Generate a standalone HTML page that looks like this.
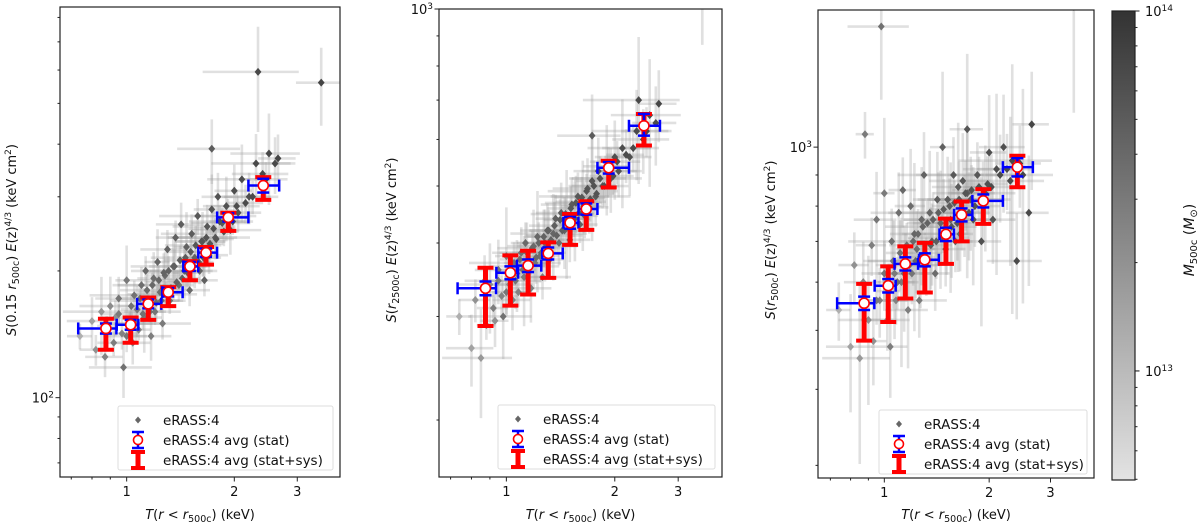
<!DOCTYPE html>
<html><head><meta charset="utf-8">
<style>
html,body{margin:0;padding:0;background:#fff;}
svg{display:block;font-family:"DejaVu Sans","Liberation Sans",sans-serif;}
</style></head>
<body>
<svg id="fig" width="1200" height="526" viewBox="0 0 1200 526" xmlns="http://www.w3.org/2000/svg">
<defs>
<linearGradient id="cbg" x1="0" y1="0" x2="0" y2="1">
<stop offset="0" stop-color="#333"/><stop offset="1" stop-color="#e3e3e3"/>
</linearGradient>
</defs>
</svg>
<script>
// ---------- data ----------
const clusterT = [0.74,0.80,0.82,0.85,0.87,0.88,0.90,0.92,0.93,0.95,0.97,0.98,1.00,1.02,1.04,1.05,1.07,1.08,1.10,1.12,1.13,1.15,1.17,1.19,1.20,1.22,1.24,1.26,1.28,1.30,1.32,1.35,1.37,1.40,1.42,1.45,1.47,1.50,1.52,1.55,1.58,1.60,1.63,1.65,1.68,1.70,1.73,1.77,1.80,1.85,1.90,1.95,2.00,2.05,2.10,2.20,2.30,2.40,2.50,2.60,2.65,3.50,2.33,1.73,
 0.95,1.0,1.03,1.06,1.09,1.11,1.14,1.16,1.18,1.21,1.23,1.25,1.27,1.29,1.31,1.33,1.36,1.38,1.41,1.43,1.46,1.48,1.51,1.54,1.56,1.59,1.62,1.64,1.67,1.71,1.75,1.78,1.82,1.87,1.92,1.98,2.03,2.15,2.25,2.45];
const clusterS1 = [140,152,130,160,125,148,165,135,155,172,142,118,190,150,135,175,162,145,185,155,200,170,140,192,160,210,178,150,195,225,170,205,240,185,258,200,228,180,245,215,270,200,235,190,255,218,280,240,300,260,285,250,310,275,330,300,360,340,380,360,370,560,594,390,
 158,140,165,150,172,158,180,160,185,168,190,170,198,176,200,182,205,188,212,192,215,198,222,205,230,210,235,215,240,232,252,238,262,248,270,262,285,290,300,330];
const clusterS2 = [300,265,320,255,345,290,340,310,295,360,325,300,380,340,320,370,355,330,385,350,400,365,335,395,370,410,380,350,400,420,375,415,440,400,450,420,440,405,465,440,480,430,470,445,495,460,510,480,530,500,540,515,560,530,580,560,620,600,660,640,690,1100,700,609,
 345,330,360,345,375,360,385,368,392,378,400,385,410,395,420,405,428,412,438,420,448,430,458,440,468,450,478,462,490,475,500,485,515,500,530,520,550,565,580,620];
const clusterS3 = [540,470,640,450,600,1050,520,690,480,760,560,1578,840,520,470,700,620,560,780,600,850,650,540,800,620,720,680,560,760,900,640,780,700,620,820,750,1000,680,820,760,900,700,860,720,880,780,1070,820,760,900,700,840,980,760,920,1000,880,650,900,780,1090,1700,950,840,
 560,620,580,650,600,670,620,690,640,700,650,720,660,740,670,750,690,760,700,780,710,790,720,800,740,810,750,820,760,840,780,850,800,860,820,870,860,900,920,940];
const clusterMass = [1.2,1.5,2.0,1.8,2.5,3.0,2.2,2.8,2.0,3.2,2.6,3.5,3.0,2.4,2.8,3.4,3.0,2.6,3.6,3.0,4.0,3.4,2.8,3.8,3.2,4.2,3.6,3.0,4.0,4.4,3.6,4.2,4.6,3.8,4.8,4.2,4.6,4.0,5.0,4.6,5.2,4.4,5.0,4.6,5.4,5.0,5.6,5.2,5.8,5.4,6.0,5.6,6.2,5.8,6.4,6.2,6.8,6.6,7.0,6.8,7.2,7.5,7.0,5.0,
 3.0,3.2,3.4,3.3,3.6,3.5,3.8,3.7,4.0,3.9,4.2,4.0,4.4,4.2,4.5,4.4,4.7,4.5,4.9,4.7,5.0,4.9,5.2,5.0,5.4,5.2,5.5,5.4,5.7,5.6,5.9,5.8,6.0,6.0,6.2,6.2,6.4,6.6,6.8,7.0];
const xErrFrac = [0.08,0.15,0.10,0.22,0.12,0.06,0.18,0.10,0.09,0.14,0.11,0.20,0.07,0.16,0.12,0.25,0.10,0.08,0.17,0.12,0.09,0.22,0.14,0.10,0.18,0.08,0.13,0.20,0.11,0.16,0.09,0.24,0.12,0.10,0.15,0.20,0.08,0.14,0.18,0.10,0.22,0.12,0.16,0.09,0.20,0.13,0.11,0.25,0.10,0.18,0.14,0.22,0.12,0.16,0.20,0.15,0.25,0.18,0.22,0.14,0.12,0.15,0.30,0.20,
 0.10,0.14,0.08,0.18,0.12,0.09,0.16,0.11,0.20,0.08,0.13,0.17,0.10,0.22,0.12,0.09,0.15,0.18,0.10,0.12,0.20,0.09,0.14,0.11,0.18,0.10,0.16,0.12,0.22,0.09,0.15,0.12,0.18,0.10,0.20,0.14,0.16,0.12,0.18,0.15];
const yErrFrac = [0.10,0.20,0.12,0.30,0.15,0.08,0.25,0.10,0.14,0.18,0.12,0.22,0.30,0.10,0.16,0.12,0.20,0.08,0.15,0.25,0.12,0.10,0.18,0.22,0.10,0.28,0.14,0.12,0.20,0.16,0.10,0.24,0.14,0.12,0.18,0.20,0.30,0.12,0.16,0.22,0.14,0.10,0.25,0.12,0.18,0.14,0.30,0.16,0.20,0.12,0.25,0.18,0.22,0.14,0.30,0.20,0.25,0.18,0.35,0.22,0.20,0.30,0.40,0.25,
 0.08,0.12,0.10,0.15,0.09,0.12,0.18,0.08,0.10,0.14,0.12,0.09,0.16,0.10,0.12,0.08,0.14,0.10,0.12,0.15,0.09,0.11,0.13,0.10,0.16,0.08,0.12,0.14,0.10,0.12,0.15,0.09,0.13,0.11,0.14,0.10,0.12,0.15,0.13,0.14];

const binT = [0.875,1.026,1.149,1.307,1.503,1.667,1.924,2.41];
const binTlo = [0.732,0.938,1.070,1.258,1.440,1.586,1.790,2.190];
const binThi = [0.936,1.078,1.250,1.434,1.585,1.790,2.190,2.670];

const avgS1 = [146,149,167,178,205,221,268,319];
const sysLo1 = [130,135,153,165,190,207,249,295];
const sysHi1 = [154,155,173,183,211,228,275,334];
const statLo1 = [142,145,163,174,200,216,262,307];
const statHi1 = [150,153,171,182,210,226,274,331];

const avgS2 = [335,356,366,384,433,457,537,633];
const sysLo2 = [289,313,327,349,397,421,497,586];
const sysHi2 = [363,381,388,401,448,471,552,663];
const statLo2 = [326,347,357,375,423,447,525,609];
const statHi2 = [344,365,375,393,443,467,549,663];

const avgS3 = [554,592,643,653,719,774,816,927];
const sysLo3 = [481,516,564,577,643,700,748,859];
const sysHi3 = [596,637,687,696,763,814,853,968];
const statLo3 = [540,577,627,637,701,755,796,895];
const statHi3 = [568,607,659,669,737,793,836,959];

const xTickVals = [1,2,3];
const xTickLabels = ["1","2","3"];
const cbTickVals = [1e13,1e14];

// ---------- helpers ----------
const NS="http://www.w3.org/2000/svg";
const svg=document.getElementById('fig');
function mk(tag,attrs,parent){const e=document.createElementNS(NS,tag);for(const k in attrs)e.setAttribute(k,attrs[k]);(parent||svg).appendChild(e);return e;}
const L=Math.log10;

const panels=[
 {id:'p1',x0:60,x1:340,y0:7,y1:477,tmin:0.651,tmax:3.95,smin:64.8,smax:847,S:clusterS1,avg:avgS1,sl:sysLo1,sh:sysHi1,tl:statLo1,th:statHi1,yscale:0.7,
  ylab:['S(0.15\u00a0','r','500c',')\u00a0','E','(z)','4/3',' (keV cm','2',')'],ylx:16,yly:240,legX:118,legY:406,legW:215,
  major:[{v:100,l:'10',e:'2'}]},
 {id:'p2',x0:439,x1:722,y0:9,y1:477,tmin:0.65,tmax:3.97,smin:160,smax:1000,S:clusterS2,avg:avgS2,sl:sysLo2,sh:sysHi2,tl:statLo2,th:statHi2,yscale:0.7,
  ylab:['S(','r','2500c',')\u00a0','E','(z)','4/3',' (keV cm','2',')'],ylx:396,yly:240,legX:498,legY:405,legW:217,
  major:[{v:1000,l:'10',e:'3'}]},
 {id:'p3',x0:818,x1:1094,y0:10,y1:478,tmin:0.645,tmax:4.0,smin:286,smax:1680,S:clusterS3,avg:avgS3,sl:sysLo3,sh:sysHi3,tl:statLo3,th:statHi3,yscale:1.1,
  ylab:['S(','r','500c',')\u00a0','E','(z)','4/3',' (keV cm','2',')'],ylx:775,yly:240,legX:879,legY:410,legW:208,
  major:[{v:1000,l:'10',e:'3'}]}
];

function massColor(m){
  let t=(L(m*1e13)-12.697)/(14-12.697); t=Math.max(0,Math.min(1,t));
  const g=Math.round(227-t*(227-51)); return `rgb(${g},${g},${g})`;
}

panels.forEach((p,pi)=>{
  const X=t=>p.x0+(L(t)-L(p.tmin))/(L(p.tmax)-L(p.tmin))*(p.x1-p.x0);
  const Y=s=>p.y1-(L(s)-L(p.smin))/(L(p.smax)-L(p.smin))*(p.y1-p.y0);
  const g=mk('g',{});
  
  
  const cp=mk('clipPath',{id:'clip'+pi},g);
  mk('rect',{x:p.x0,y:p.y0,width:p.x1-p.x0,height:p.y1-p.y0},cp);
  const plot=mk('g',{'clip-path':`url(#clip${pi})`},g);
  
  
  const eg=mk('g',{stroke:'rgba(160,160,160,0.32)','stroke-width':2.6,fill:'none'},plot);
  
  
  clusterT.forEach((t,i)=>{
    const s=p.S[i], xf=xErrFrac[i], yf=yErrFrac[i]*p.yscale;
    mk('line',{x1:X(t*(1-xf)),x2:X(t*(1+xf)),y1:Y(s),y2:Y(s)},eg);
    mk('line',{x1:X(t),x2:X(t),y1:Y(s*(1-yf)),y2:Y(s*(1+yf))},eg);
  });
  const pg=mk('g',{},plot);
  
  
  clusterT.forEach((t,i)=>{
    const cx=X(t),cy=Y(p.S[i]);
    const d=mk('path',{d:`M${cx},${cy-4}L${cx+3.4},${cy}L${cx},${cy+4}L${cx-3.4},${cy}Z`,fill:massColor(clusterMass[i])},pg);
    
    
  });
  const ag=mk('g',{},plot);
  
  
  binT.forEach((t,i)=>{
    const cx=X(t),cy=Y(p.avg[i]);
    const ylo=Y(p.sl[i]),yhi=Y(p.sh[i]);
    mk('line',{x1:cx,x2:cx,y1:yhi,y2:ylo,stroke:'#ff0000','stroke-width':5},ag);
    mk('line',{x1:cx-8,x2:cx+8,y1:yhi,y2:yhi,stroke:'#ff0000','stroke-width':4},ag);
    mk('line',{x1:cx-8,x2:cx+8,y1:ylo,y2:ylo,stroke:'#ff0000','stroke-width':4},ag);
    const xl=X(binTlo[i]),xh=X(binThi[i]),sl=Y(p.tl[i]),sh=Y(p.th[i]);
    mk('line',{x1:xl,x2:xh,y1:cy,y2:cy,stroke:'#0000ff','stroke-width':2.5},ag);
    mk('line',{x1:xl,x2:xl,y1:cy-6,y2:cy+6,stroke:'#0000ff','stroke-width':2.5},ag);
    mk('line',{x1:xh,x2:xh,y1:cy-6,y2:cy+6,stroke:'#0000ff','stroke-width':2.5},ag);
    mk('line',{x1:cx,x2:cx,y1:sh,y2:sl,stroke:'#0000ff','stroke-width':2.5},ag);
    mk('line',{x1:cx-6,x2:cx+6,y1:sh,y2:sh,stroke:'#0000ff','stroke-width':2.5},ag);
    mk('line',{x1:cx-6,x2:cx+6,y1:sl,y2:sl,stroke:'#0000ff','stroke-width':2.5},ag);
    const c=mk('circle',{cx:cx,cy:cy,r:5,fill:'#fff',stroke:'#ff0000','stroke-width':1.6},ag);
    
    
  });
  const fr=mk('rect',{x:p.x0,y:p.y0,width:p.x1-p.x0,height:p.y1-p.y0,fill:'none',stroke:'#222','stroke-width':1.2},g);
  
  
  const xa=mk('g',{},g);
  
  
  [0.7,0.8,0.9].forEach(v=>mk('line',{x1:X(v),x2:X(v),y1:p.y1,y2:p.y1+2.5,stroke:'#222'},xa));
  xTickVals.forEach((v,i)=>{
    mk('line',{x1:X(v),x2:X(v),y1:p.y1,y2:p.y1+4.5,stroke:'#222'},xa);
    const t=mk('text',{x:X(v),y:p.y1+19,'text-anchor':'middle','font-size':13,fill:'#111'},xa);
    t.textContent=xTickLabels[i];
  });
  const xt=mk('text',{x:(p.x0+p.x1)/2,y:519,'text-anchor':'middle','font-size':13,fill:'#111'},xa);
  
  
  xt.innerHTML='<tspan font-style="italic">T</tspan>(<tspan font-style="italic">r</tspan> &lt; <tspan font-style="italic">r</tspan><tspan font-size="9.5" dy="3">500c</tspan><tspan dy="-3">) (keV)</tspan>';
  const ya=mk('g',{},g);
  
  
  for(let dec=10;dec<=1000;dec*=10){
    for(let k=1;k<10;k++){
      const v=k*dec; if(v<p.smin||v>p.smax*1.001)continue;
      const major=(k===1);
      mk('line',{x1:p.x0,x2:p.x0-(major?4.5:2.5),y1:Y(v),y2:Y(v),stroke:'#222'},ya);
    }
  }
  p.major.forEach(m=>{
    const t=mk('text',{x:p.x0-6,y:Y(m.v)+5,'text-anchor':'end','font-size':13,fill:'#111'},ya);
    t.innerHTML=m.l+'<tspan font-size="9" dy="-5">'+m.e+'</tspan>';
  });
  const yt=mk('text',{x:0,y:0,'text-anchor':'middle','font-size':13,fill:'#111',transform:`translate(${p.ylx},${p.yly}) rotate(-90)`},ya);
  
  
  const a=p.ylab;
  yt.innerHTML=`<tspan font-style="italic">S</tspan>${a[0].slice(1)}<tspan font-style="italic">${a[1]}</tspan><tspan font-size="9.5" dy="3">${a[2]}</tspan><tspan dy="-3">${a[3]}</tspan><tspan font-style="italic">${a[4]}</tspan>${a[5]}<tspan font-size="9" dy="-5">${a[6]}</tspan><tspan dy="5">${a[7]}</tspan><tspan font-size="9" dy="-5">${a[8]}</tspan><tspan dy="5">${a[9]}</tspan>`;
  const lg=mk('g',{},g);
  
  
  mk('rect',{x:p.legX,y:p.legY,width:p.legW,height:64,rx:2,fill:'rgba(255,255,255,0.85)',stroke:'#ddd'},lg);
  const mx=p.legX+20, tx=p.legX+45;
  const r1=p.legY+14,r2=p.legY+34,r3=p.legY+54;
  mk('path',{d:`M${mx},${r1-3.5}L${mx+3},${r1}L${mx},${r1+3.5}L${mx-3},${r1}Z`,fill:'#666'},lg);
  mk('line',{x1:mx,x2:mx,y1:r2-8,y2:r2+8,stroke:'#00f','stroke-width':2.5},lg);
  mk('line',{x1:mx-6,x2:mx+6,y1:r2-8,y2:r2-8,stroke:'#00f','stroke-width':2.5},lg);
  mk('line',{x1:mx-6,x2:mx+6,y1:r2+8,y2:r2+8,stroke:'#00f','stroke-width':2.5},lg);
  mk('circle',{cx:mx,cy:r2,r:4.5,fill:'#fff',stroke:'#f00','stroke-width':1.6},lg);
  mk('line',{x1:mx,x2:mx,y1:r3-8,y2:r3+8,stroke:'#f00','stroke-width':5},lg);
  mk('line',{x1:mx-7,x2:mx+7,y1:r3-8,y2:r3-8,stroke:'#f00','stroke-width':4},lg);
  mk('line',{x1:mx-7,x2:mx+7,y1:r3+8,y2:r3+8,stroke:'#f00','stroke-width':4},lg);
  [['eRASS:4',r1,'legend-entry-clusters'],['eRASS:4 avg (stat)',r2,'legend-entry-avg-stat'],['eRASS:4 avg (stat+sys)',r3,'legend-entry-avg-statsys']].forEach(e=>{
    const t=mk('text',{x:tx,y:e[1]+5,'font-size':13.5,fill:'#111'},lg);
    t.textContent=e[0];
    
    
  });
});

const cb=mk('g',{});


const cbx0=1112,cbx1=1135,cby0=11,cby1=480,mtop=14,mbot=12.697;
const CY=m=>cby0+(mtop-L(m))/(mtop-mbot)*(cby1-cby0);
mk('rect',{x:cbx0,y:cby0,width:cbx1-cbx0,height:cby1-cby0,fill:'url(#cbg)',stroke:'#222','stroke-width':1.2},cb);
for(let e=12;e<=13;e++)for(let k=1;k<10;k++){const v=k*Math.pow(10,e);if(L(v)<mbot||L(v)>mtop)continue;mk('line',{x1:cbx1,x2:cbx1+(k===1?4.5:2.5),y1:CY(v),y2:CY(v),stroke:'#222'},cb);}
cbTickVals.forEach(v=>{
  mk('line',{x1:cbx1,x2:cbx1+4.5,y1:CY(v),y2:CY(v),stroke:'#222'},cb);
  const t=mk('text',{x:cbx1+10,y:CY(v)+5,'font-size':13,fill:'#111'},cb);
  t.innerHTML='10<tspan font-size="9" dy="-5">'+Math.round(L(v))+'</tspan>';
});
const cbl=mk('text',{x:0,y:0,'text-anchor':'middle','font-size':14,fill:'#111',transform:'translate(1194,240) rotate(-90)'},cb);


cbl.innerHTML='<tspan font-style="italic">M</tspan><tspan font-size="10" dy="3">500c</tspan><tspan dy="-3"> (</tspan><tspan font-style="italic">M</tspan><tspan font-size="10" dy="3">⊙</tspan><tspan dy="-3">)</tspan>';
</script>
</body></html>
